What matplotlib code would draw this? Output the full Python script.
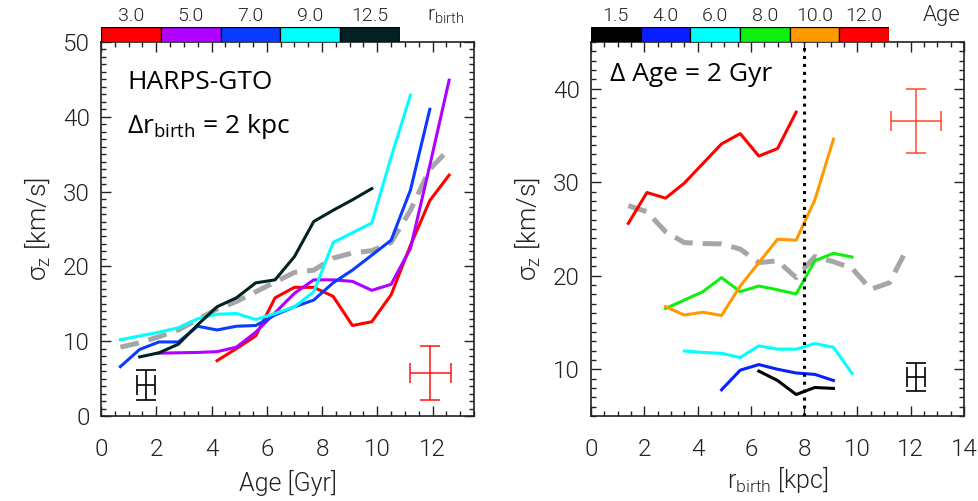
import numpy as np
import matplotlib
matplotlib.use("Agg")
import matplotlib.pyplot as plt
from matplotlib import font_manager as fm
from matplotlib.ticker import MultipleLocator

# ---------------- data ----------------
# Left panel: sigma_z vs Age for bins of r_birth
left_cat_labels = ["3.0", "5.0", "7.0", "9.0", "12.5"]
left_colors = ["#ff0000", "#b000ff", "#0a3cff", "#00ffff", "#002222"]

age_red = [4.2, 4.9, 5.6, 6.3, 7.0, 7.7, 8.4, 9.1, 9.8, 10.5, 11.2, 11.9, 12.6]
sig_red = [7.4, 9.0, 10.7, 15.8, 17.2, 17.2, 16.0, 12.1, 12.6, 16.2, 22.8, 28.8, 32.2]

age_purple = [2.1, 2.8, 3.5, 4.2, 4.9, 5.6, 6.3, 7.0, 7.7, 8.4, 9.1, 9.8, 10.5, 11.2, 11.9, 12.6]
sig_purple = [8.4, 8.45, 8.5, 8.6, 9.2, 11.2, 13.8, 16.4, 18.2, 18.2, 18.0, 16.8, 17.6, 22.4, 33.5, 44.9]

age_blue = [0.7, 1.4, 2.1, 2.8, 3.5, 4.2, 4.9, 5.6, 6.3, 7.0, 7.7, 8.4, 9.1, 9.8, 10.5, 11.2, 11.9]
sig_blue = [6.6, 8.9, 9.9, 9.9, 12.0, 11.5, 12.0, 12.1, 13.5, 14.6, 15.5, 17.8, 19.5, 21.5, 23.5, 30.2, 41.0]

age_cyan = [0.7, 1.4, 2.1, 2.8, 3.5, 4.2, 4.9, 5.6, 6.3, 7.0, 7.7, 8.4, 9.1, 9.8, 10.5, 11.2]
sig_cyan = [10.2, 10.7, 11.2, 11.8, 13.0, 13.6, 13.7, 12.9, 13.7, 14.6, 16.6, 23.2, 24.5, 25.8, 34.6, 42.9]

age_dark = [1.4, 2.1, 2.8, 3.5, 4.2, 4.9, 5.6, 6.3, 7.0, 7.7, 8.4, 9.1, 9.8]
sig_dark = [7.9, 8.45, 9.6, 12.2, 14.6, 15.8, 17.8, 18.2, 21.3, 26.0, 27.5, 28.9, 30.4]

age_all = [0.7, 1.4, 2.1, 2.8, 3.5, 4.2, 4.9, 5.6, 6.3, 7.0, 7.7, 8.4, 9.1, 9.8, 10.5, 11.2, 11.9, 12.6]
sig_all_left = [9.2, 9.8, 10.6, 11.5, 12.9, 14.3, 15.3, 16.6, 17.9, 19.2, 19.5, 21.1, 21.8, 22.1, 23.2, 27.5, 33.0, 35.7]

# left error bars (x, y, xerr, yerr)
left_err_black = (1.62, 4.2, 0.33, 2.0)
left_err_red = (11.92, 5.8, 0.75, 3.6)

# Right panel: sigma_z vs r_birth for bins of Age
right_cat_labels = ["1.5", "4.0", "6.0", "8.0", "10.0", "12.0"]
right_colors = ["#000000", "#0a1eff", "#00ffff", "#10f010", "#ff9900", "#ff0000"]

rb_black = [6.3, 7.0, 7.7, 8.4, 9.1]
sr_black = [9.8, 8.8, 7.3, 8.05, 7.95]

rb_blue = [4.9, 5.6, 6.3, 7.0, 7.7, 8.4, 9.1]
sr_blue = [7.8, 9.9, 10.5, 10.0, 9.6, 9.45, 8.8]

rb_cyan = [3.5, 4.2, 4.9, 5.6, 6.3, 7.0, 7.7, 8.4, 9.1, 9.8]
sr_cyan = [11.95, 11.8, 11.7, 11.25, 12.5, 12.15, 12.15, 12.75, 12.35, 9.55]

rb_green = [2.8, 3.5, 4.2, 4.9, 5.6, 6.3, 7.0, 7.7, 8.4, 9.1, 9.8]
sr_green = [16.5, 17.4, 18.3, 19.8, 18.3, 18.9, 18.5, 18.05, 21.6, 22.4, 22.0]

rb_orange = [2.8, 3.5, 4.2, 4.9, 5.6, 6.3, 7.0, 7.7, 8.4, 9.1]
sr_orange = [16.7, 15.8, 16.1, 15.75, 18.9, 21.4, 23.9, 23.8, 28.1, 34.6]

rb_red = [1.4, 2.1, 2.8, 3.5, 4.2, 4.9, 5.6, 6.3, 7.0, 7.7]
sr_red = [25.6, 28.9, 28.3, 29.9, 32.0, 34.1, 35.2, 32.8, 33.6, 37.5]

rb_all = [1.4, 2.1, 2.8, 3.5, 4.2, 4.9, 5.6, 6.3, 7.0, 7.7, 8.4, 9.1, 9.8, 10.5, 11.2, 11.9]
sr_all = [27.5, 26.85, 24.7, 23.55, 23.45, 23.4, 22.85, 21.4, 21.6, 19.8, 22.05, 21.5, 20.8, 18.55, 19.25, 23.1]

right_err_black = (12.19, 9.15, 0.33, 1.47)
right_err_red = (12.19, 36.55, 0.94, 3.37)

r_sun = 8.0

# ---------------- fonts ----------------
def pick_light():
    for fam in ["Roboto", "Open Sans", "Lato", "Noto Sans", "Inter", "DejaVu Sans"]:
        for f in fm.fontManager.ttflist:
            if f.name == fam and isinstance(f.weight, (int, float)) and f.weight <= 300:
                return fam, f.weight
    return "DejaVu Sans", "normal"

tick_family, tick_weight = pick_light()
plt.rcParams["font.family"] = [tick_family, "DejaVu Sans"]
plt.rcParams["font.weight"] = tick_weight
plt.rcParams["mathtext.fontset"] = "dejavusans"
ann_family = ["Open Sans", "DejaVu Sans"]

fig = plt.figure(figsize=(9.79, 5.01), dpi=100)

W, H = 979.0, 501.0
def rect(x0, y0, x1, y1):
    return [x0 / W, 1 - y1 / H, (x1 - x0) / W, (y1 - y0) / H]

axL = fig.add_axes(rect(101, 42, 474, 416))
axR = fig.add_axes(rect(591, 42, 964, 416))
cbL = fig.add_axes(rect(101, 27, 400, 42))
cbR = fig.add_axes(rect(591, 27, 889, 42))

LW = 2.2
GRAY = "#a6a6a6"
TXT = "#222222"

def style_axes(ax, xmaj, xmin, ymaj, ymin):
    ax.xaxis.set_major_locator(MultipleLocator(xmaj))
    ax.xaxis.set_minor_locator(MultipleLocator(xmin))
    ax.yaxis.set_major_locator(MultipleLocator(ymaj))
    ax.yaxis.set_minor_locator(MultipleLocator(ymin))
    ax.tick_params(which="both", direction="in", top=True, right=True, width=1.0, color=TXT)
    ax.tick_params(which="major", length=7.5)
    ax.tick_params(which="minor", length=3.8)
    ax.tick_params(axis="x", which="major", pad=16, labelsize=17.5, labelcolor=TXT)
    ax.tick_params(axis="y", which="major", pad=8, labelsize=17.5, labelcolor=TXT)
    for lab in ax.get_xticklabels() + ax.get_yticklabels():
        lab.set_fontweight(tick_weight)
    for s in ax.spines.values():
        s.set_linewidth(1.2)
        s.set_color(TXT)

ylab = "σ$_\\mathregular{z}$ [km/s]"

# ---------------- left panel ----------------
axL.plot(age_all, sig_all_left, color=GRAY, lw=3.6, dashes=(3.8, 2.0), zorder=2)
axL.plot(age_red, sig_red, color=left_colors[0], lw=LW, zorder=3)
axL.plot(age_purple, sig_purple, color=left_colors[1], lw=LW, zorder=3)
axL.plot(age_blue, sig_blue, color=left_colors[2], lw=LW, zorder=3)
axL.plot(age_cyan, sig_cyan, color=left_colors[3], lw=LW, zorder=3)
axL.plot(age_dark, sig_dark, color=left_colors[4], lw=LW, zorder=3)

for (x, y, xe, ye), c in [(left_err_black, "black"), (left_err_red, "red")]:
    axL.errorbar([x], [y], xerr=[xe], yerr=[ye], fmt="none", ecolor=c, elinewidth=1.2,
                 capsize=7, capthick=1.2, alpha=0.85 if c == "red" else 1)

axL.set_xlim(0, 13.5)
axL.set_ylim(0, 50)
style_axes(axL, 2, 0.5, 10, 1)
axL.set_xlabel("Age [Gyr]", fontsize=18, labelpad=6, color=TXT, fontweight=tick_weight)
axL.set_ylabel(ylab, fontsize=19, labelpad=8, color=TXT, fontweight=tick_weight)

axL.text(0.07, 0.893, "HARPS-GTO", transform=axL.transAxes, fontsize=19,
         family=ann_family, fontweight="normal", va="center", ha="left")
axL.text(0.07, 0.773, "Δr$_\\mathregular{birth}$ = 2 kpc", transform=axL.transAxes,
         fontsize=19, family=ann_family, fontweight="normal", va="center", ha="left")

# ---------------- right panel ----------------
axR.plot(rb_all, sr_all, color=GRAY, lw=3.6, dashes=(3.8, 2.0), zorder=2)
axR.axvline(r_sun, color="black", lw=2.2, ls=(0, (1, 1.6)), zorder=4)
axR.plot(rb_black, sr_black, color=right_colors[0], lw=LW, zorder=3)
axR.plot(rb_blue, sr_blue, color=right_colors[1], lw=LW, zorder=3)
axR.plot(rb_cyan, sr_cyan, color=right_colors[2], lw=LW, zorder=3)
axR.plot(rb_green, sr_green, color=right_colors[3], lw=LW, zorder=3)
axR.plot(rb_orange, sr_orange, color=right_colors[4], lw=LW, zorder=3)
axR.plot(rb_red, sr_red, color=right_colors[5], lw=LW, zorder=3)

for (x, y, xe, ye), c in [(right_err_black, "black"), (right_err_red, "#ff3a1a")]:
    axR.errorbar([x], [y], xerr=[xe], yerr=[ye], fmt="none", ecolor=c, elinewidth=1.2,
                 capsize=7, capthick=1.2, alpha=0.85 if c != "black" else 1)

axR.set_xlim(0, 14)
axR.set_ylim(5, 45)
style_axes(axR, 2, 0.5, 10, 1)
axR.set_xlabel("r$_\\mathregular{birth}$ [kpc]", fontsize=18, labelpad=2, color=TXT,
               fontweight=tick_weight)
axR.set_ylabel(ylab, fontsize=19, labelpad=8, color=TXT, fontweight=tick_weight)
axR.text(0.05, 0.912, "Δ Age = 2 Gyr", transform=axR.transAxes, fontsize=19,
         family=ann_family, fontweight="normal", va="center", ha="left")

# ---------------- colour bars ----------------
def colorbar(ax, colors, labels, title, title_x, tsize):
    n = len(colors)
    ax.bar(np.arange(n), np.ones(n), width=1.0, color=colors, edgecolor="black",
           linewidth=0.9, align="edge")
    ax.set_xlim(0, n)
    ax.set_ylim(0, 1)
    ax.set_xticks(np.arange(n) + 0.5)
    ax.set_xticklabels(labels)
    ax.xaxis.tick_top()
    ax.tick_params(axis="x", length=0, pad=1.5, labelsize=14, labelcolor=TXT)
    for lab in ax.get_xticklabels():
        lab.set_fontweight(tick_weight)
    ax.set_yticks([])
    for s in ax.spines.values():
        s.set_visible(False)
    fig.text(title_x, 1 - 26 / H, title, fontsize=tsize, ha="center", va="bottom",
             color=TXT, fontweight=tick_weight)

colorbar(cbL, left_colors, left_cat_labels, "r$_\\mathregular{birth}$", 446 / W, 15)
colorbar(cbR, right_colors, right_cat_labels, "Age", 942 / W, 16)

fig.savefig("out.png", dpi=100)
